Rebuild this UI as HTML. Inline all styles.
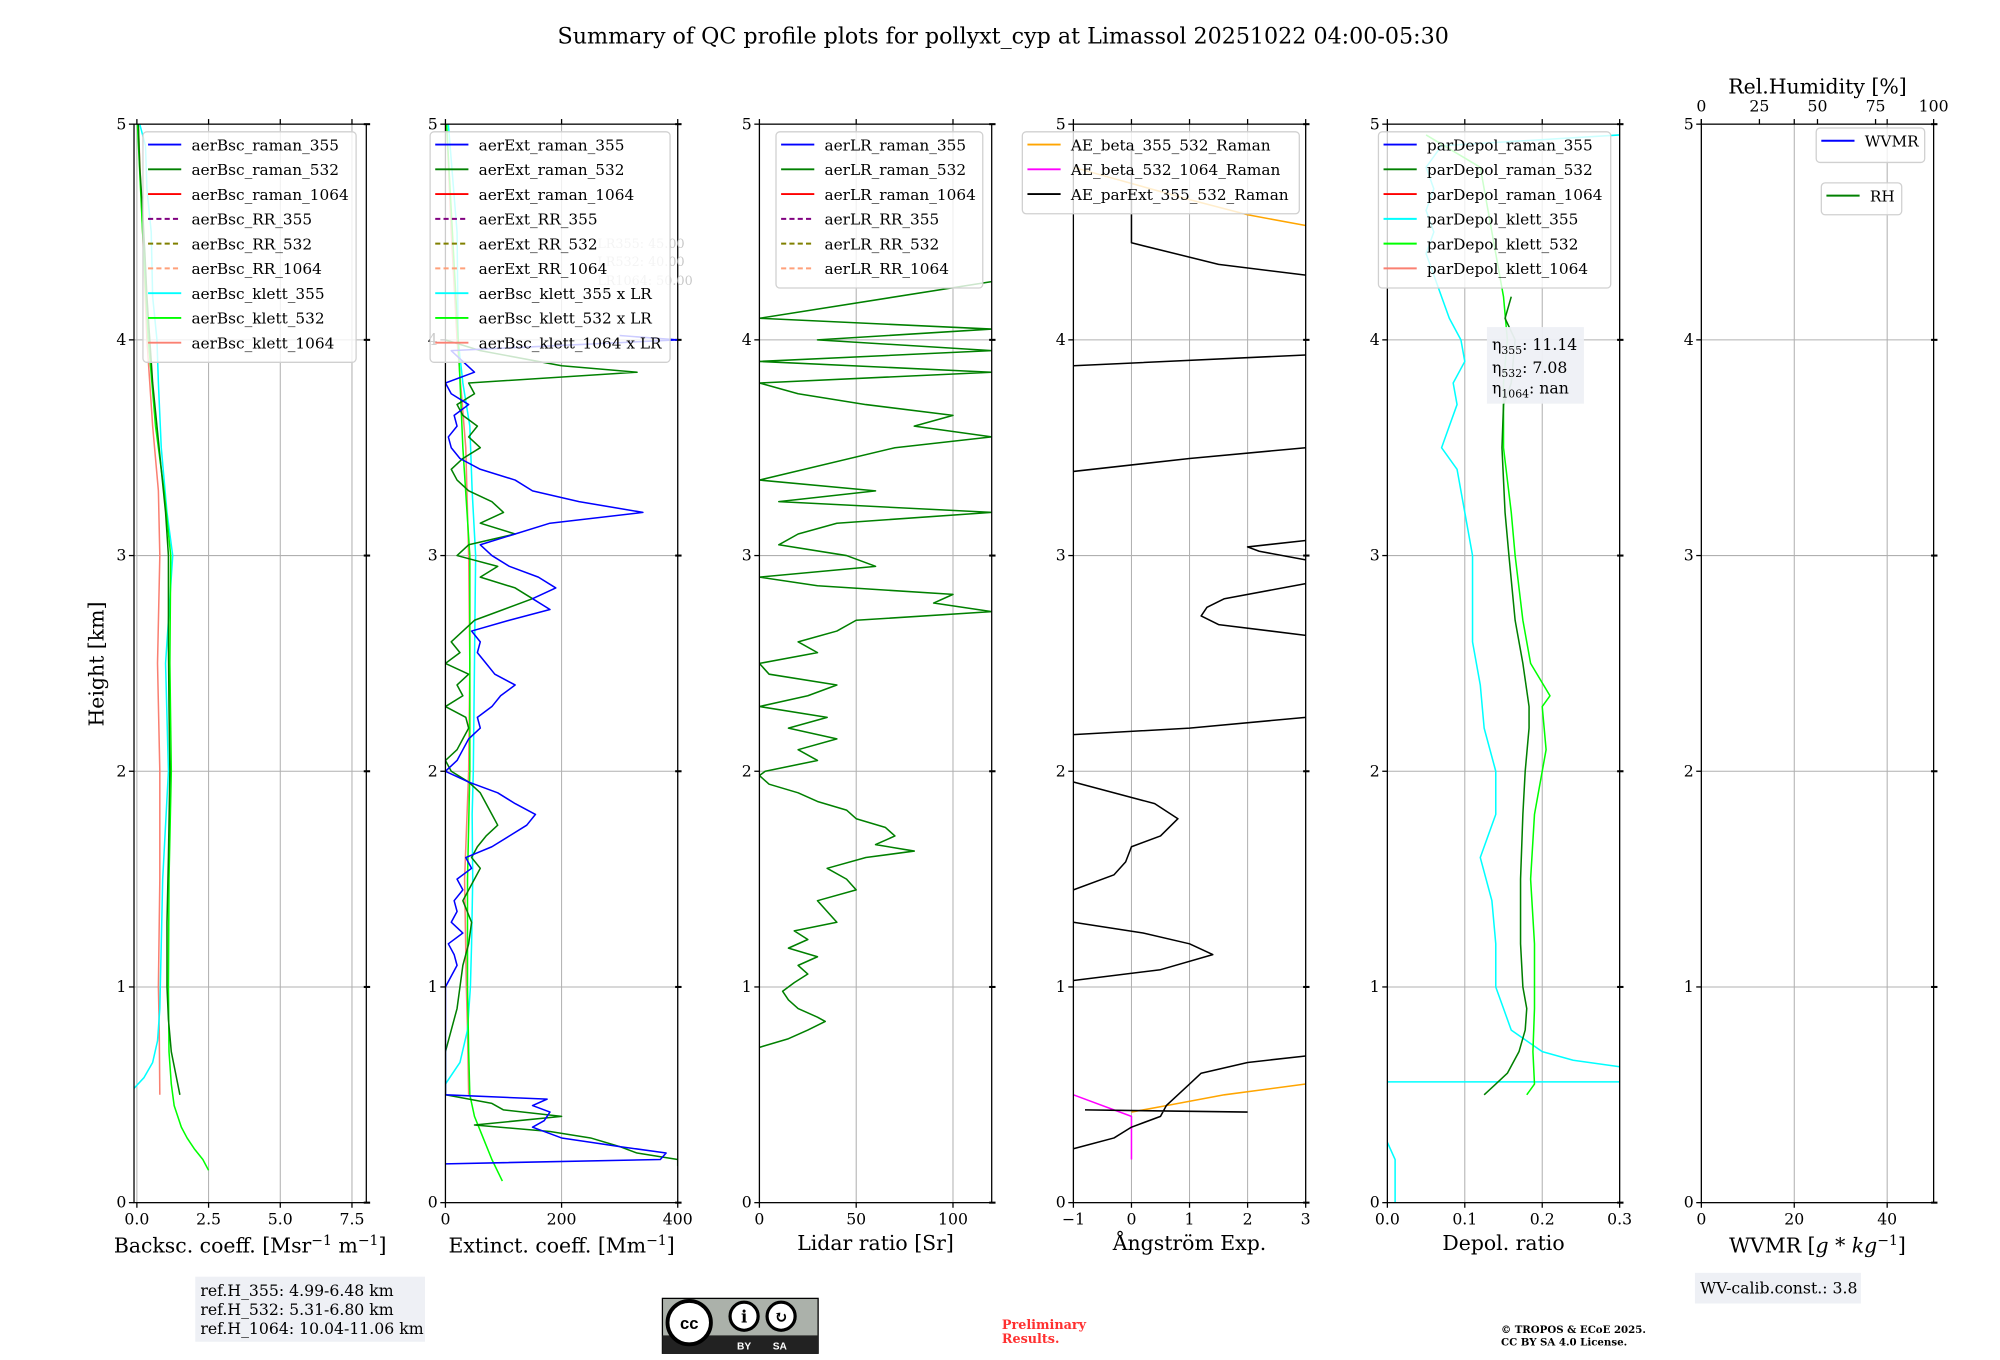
<!DOCTYPE html>
<html><head><meta charset="utf-8"><style>
html,body{margin:0;padding:0;background:#fff;}
svg{display:block;font-family:"DejaVu Serif","Liberation Serif",serif;}
</style></head><body>
<svg id="fig" width="2000" height="1360" viewBox="0 0 1567 1065" xmlns="http://www.w3.org/2000/svg">
<rect x="0" y="0" width="1567" height="1065" fill="#fff"/>
<text x="786" y="34" font-size="17.4" text-anchor="middle">Summary of QC profile plots for pollyxt_cyp at Limassol 20251022 04:00-05:30</text>
<text x="0" y="0" font-size="16" text-anchor="middle" transform="translate(81,520) rotate(-90)">Height [km]</text>
<g id="panels"></g>
<g>
<rect x="153" y="1000" width="180" height="51" fill="#eef0f5"/>
<text x="157" y="1015" font-size="12.3">ref.H_355: 4.99-6.48 km</text>
<text x="157" y="1030" font-size="12.3">ref.H_532: 5.31-6.80 km</text>
<text x="157" y="1045" font-size="12.3">ref.H_1064: 10.04-11.06 km</text>
</g>
<g>
<rect x="519" y="1017" width="122" height="43" fill="#abb1aa" stroke="#000" stroke-width="1"/>
<rect x="519" y="1046" width="122" height="14" fill="#222"/>
<circle cx="540" cy="1036" r="17" fill="#fff" stroke="#000" stroke-width="3"/>
<text x="540" y="1041" font-size="13" font-weight="bold" text-anchor="middle" font-family="Liberation Sans">cc</text>
<circle cx="583" cy="1031" r="11" fill="#fff" stroke="#000" stroke-width="2.5"/>
<circle cx="612" cy="1031" r="11" fill="#fff" stroke="#000" stroke-width="2.5"/>
<text x="583" y="1036" font-size="13" font-weight="bold" text-anchor="middle">i</text>
<text x="612" y="1036" font-size="13" font-weight="bold" text-anchor="middle">↻</text>
<text x="583" y="1057" font-size="8" fill="#fff" text-anchor="middle" font-family="Liberation Sans" font-weight="bold">BY</text>
<text x="611" y="1057" font-size="8" fill="#fff" text-anchor="middle" font-family="Liberation Sans" font-weight="bold">SA</text>
</g>
<text font-size="10" font-weight="bold" fill="#ff3030"><tspan x="785" y="1041">Preliminary</tspan><tspan x="785" y="1052">Results.</tspan></text>
<text font-size="8" font-weight="bold"><tspan x="1176" y="1044">© TROPOS &amp; ECoE 2025.</tspan><tspan x="1176" y="1054">CC BY SA 4.0 License.</tspan></text>
<g>
<rect x="1328" y="997" width="130" height="24" fill="#eef0f5"/>
<text x="1332" y="1013" font-size="12.3">WV-calib.const.: 3.8</text>
</g>
</svg>
<script>
// ---------- DATA (height km / value pairs) ----------
const bscR532H=[0.5,0.6,0.7,0.85,1.0,1.3,1.6,2.0,2.3,2.6,3.0,3.2,3.4,3.6,3.8,4.0,4.2,4.4,4.6,4.8,5.0];
const bscR532V=[1.5,1.35,1.2,1.1,1.05,1.05,1.1,1.15,1.12,1.1,1.1,1.0,0.85,0.7,0.55,0.45,0.35,0.28,0.2,0.1,0.05];
const bscK532H=[0.15,0.2,0.25,0.3,0.35,0.45,0.55,0.7,1.0,1.5,2.0,2.5,3.0,3.3,3.6,4.0,4.5,5.0];
const bscK532V=[2.5,2.3,2.0,1.75,1.55,1.3,1.2,1.12,1.1,1.12,1.2,1.15,1.18,0.95,0.65,0.4,0.2,0.02];
const bscK355H=[0.53,0.58,0.65,0.75,0.9,1.2,1.5,2.0,2.5,2.8,3.0,3.2,3.5,3.8,4.0,4.2,4.5,4.7,4.9,5.0];
const bscK355V=[-0.1,0.25,0.55,0.72,0.8,0.85,0.9,1.1,1.0,1.15,1.25,1.05,0.85,0.75,0.7,0.55,0.5,0.35,0.3,0.1];
const bscK1064H=[0.5,0.8,1.0,1.5,2.0,2.5,3.0,3.3,3.6,4.0,4.5,5.0];
const bscK1064V=[0.8,0.78,0.75,0.8,0.8,0.72,0.8,0.75,0.55,0.35,0.2,0.05];

const extR355H=[0.18,0.2,0.23,0.26,0.3,0.35,0.38,0.42,0.45,0.48,0.5,1.0,1.05,1.1,1.15,1.2,1.25,1.3,1.35,1.4,1.45,1.5,1.55,1.6,1.65,1.7,1.75,1.8,1.85,1.9,1.95,2.0,2.05,2.1,2.15,2.2,2.25,2.3,2.35,2.4,2.45,2.5,2.55,2.6,2.65,2.7,2.75,2.8,2.85,2.9,2.95,3.0,3.05,3.1,3.15,3.2,3.25,3.3,3.35,3.4,3.45,3.5,3.55,3.6,3.65,3.7,3.75,3.8,3.85,3.9,3.95,4.0,4.02];
const extR355V=[0,370,380,300,200,150,170,180,150,175,0,0,10,20,15,5,30,10,20,15,30,20,45,35,80,110,140,155,120,90,40,0,20,30,40,60,55,80,95,120,85,70,55,60,45,110,180,150,190,160,110,80,60,120,180,340,230,150,120,60,25,10,5,20,15,40,10,0,50,30,10,400,300];
const extR532H=[0.17,0.2,0.23,0.26,0.3,0.33,0.36,0.4,0.43,0.46,0.5,0.7,0.8,0.9,1.0,1.1,1.2,1.3,1.4,1.5,1.55,1.6,1.65,1.7,1.75,1.8,1.85,1.9,1.95,2.0,2.05,2.1,2.15,2.2,2.25,2.3,2.35,2.4,2.45,2.5,2.55,2.6,2.65,2.7,2.75,2.8,2.85,2.9,2.95,3.0,3.05,3.1,3.15,3.2,3.25,3.3,3.35,3.4,3.45,3.5,3.55,3.6,3.65,3.7,3.75,3.8,3.85,3.88,3.95,4.0];
const extR532V=[400,400,330,300,250,180,50,200,100,80,0,0,10,20,25,30,40,45,30,50,60,45,55,70,90,80,70,60,40,10,0,20,30,40,35,0,30,20,40,0,25,10,30,50,100,150,120,60,90,20,40,120,60,100,80,40,20,10,30,60,40,55,30,20,50,40,330,200,60,0];
const extK355H=[0.55,0.65,0.8,1.0,1.2,1.5,1.8,2.0,2.5,3.0,3.3,3.6,3.8,4.0,4.5,5.0];
const extK355V=[0,25,38,43,45,47,46,48,50,52,46,42,30,22,20,5];
const extK532H=[0.1,0.2,0.3,0.4,0.5,0.7,1.0,1.5,2.0,2.5,3.0,3.5,4.0,4.5,5.0];
const extK532V=[98,80,65,50,42,40,38,38,42,42,42,30,22,12,2];
const extK1064H=[0.5,0.8,1.0,1.5,2.0,2.5,3.0,3.5,4.0,4.5,5.0];
const extK1064V=[40,38,36,33,40,42,40,35,20,10,2];

const lrR532H=[0.72,0.76,0.8,0.84,0.86,0.9,0.94,0.98,1.02,1.06,1.1,1.14,1.18,1.22,1.26,1.3,1.35,1.4,1.45,1.5,1.55,1.6,1.63,1.66,1.7,1.74,1.78,1.82,1.86,1.9,1.94,1.98,2.0,2.05,2.1,2.15,2.2,2.25,2.3,2.35,2.4,2.45,2.5,2.55,2.6,2.65,2.7,2.74,2.78,2.82,2.86,2.9,2.95,3.0,3.05,3.1,3.15,3.2,3.25,3.3,3.35,3.5,3.55,3.6,3.65,3.7,3.75,3.8,3.85,3.9,3.95,4.0,4.05,4.1,4.27];
const lrR532V=[0,15,25,34,30,20,15,12,18,25,20,30,15,25,18,40,35,30,50,45,35,55,80,60,70,65,50,45,30,20,5,0,3,30,20,40,15,35,0,25,40,5,0,30,20,40,50,120,90,100,30,0,60,45,10,20,40,120,10,60,0,70,120,80,100,55,20,0,120,0,120,30,120,0,120];
const aeParExtH=[0.25,0.3,0.35,0.4,0.45,0.5,0.55,0.6,0.65,0.68,null,0.43,0.42,null,1.03,1.08,1.15,1.2,1.25,1.3,null,1.45,1.52,1.58,1.65,1.7,1.78,1.85,1.95,null,2.17,2.2,2.25,null,2.63,2.68,2.72,2.76,2.8,2.87,null,2.98,3.02,3.04,3.07,null,3.39,3.45,3.5,null,3.88,3.93,null,4.3,4.35,4.45,4.9];
const aeParExtV=[-1,-0.3,0,0.5,0.6,0.8,1.0,1.2,2.0,3,null,-0.8,2.0,null,-1,0.5,1.4,1.0,0.2,-1,null,-1,-0.3,-0.1,0,0.5,0.8,0.4,-1,null,-1,1.0,3,null,3,1.5,1.2,1.3,1.6,3,null,3,2.2,2.0,3,null,-1,1.0,3,null,-1,3,null,3,1.5,0,0];
const aeBeta355H=[0.42,0.45,0.5,0.55,null,4.53,4.58,4.65,4.8];
const aeBeta355V=[0,0.6,1.6,3,null,3,2.0,1.0,-1];
const aeBeta5321064H=[0.5,0.4,0.38,0.2];
const aeBeta5321064V=[-1,0,0,0];

const depK355H=[0,0.2,0.28,null,0.56,0.56,null,0.63,0.66,0.7,0.75,0.8,0.9,1.0,1.2,1.4,1.6,1.8,2.0,2.2,2.4,2.6,2.8,3.0,3.2,3.4,3.5,3.6,3.7,3.8,3.9,4.0,4.1,4.2,4.3,4.4,4.5,4.6,4.7,4.8,4.9,4.95];
const depK355V=[0.01,0.01,0.0,null,0.0,0.3,null,0.3,0.24,0.2,0.18,0.16,0.15,0.14,0.14,0.135,0.12,0.14,0.14,0.125,0.12,0.11,0.11,0.11,0.1,0.09,0.07,0.08,0.09,0.085,0.1,0.095,0.08,0.07,0.06,0.05,0.06,0.05,0.06,0.05,0.07,0.3];
const depR532H=[0.5,0.55,0.6,0.7,0.8,0.9,1.0,1.2,1.5,1.8,2.0,2.2,2.3,2.5,2.7,3.0,3.2,3.5,3.7,3.8,4.0,4.1,4.2];
const depR532V=[0.125,0.14,0.155,0.17,0.178,0.18,0.175,0.172,0.172,0.175,0.178,0.183,0.183,0.175,0.165,0.157,0.152,0.148,0.15,0.16,0.165,0.152,0.16];
const depK532H=[0.5,0.55,0.7,0.9,1.2,1.5,1.8,2.0,2.1,2.3,2.35,2.5,2.7,3.0,3.2,3.5,3.8,4.0,4.2,4.4,4.6,4.8,4.95];
const depK532V=[0.18,0.19,0.188,0.19,0.19,0.185,0.19,0.2,0.205,0.2,0.21,0.185,0.175,0.165,0.16,0.15,0.15,0.155,0.15,0.14,0.13,0.12,0.05];

// x tick labels
const p1Ticks=[0,2.5,5,7.5], p1Labels=["0.0","2.5","5.0","7.5"];
const p2Ticks=[0,200,400], p2Labels=["0","200","400"];
const p3Ticks=[0,50,100], p3Labels=["0","50","100"];
const p4Ticks=[-1,0,1,2,3], p4Labels=["\u22121","0","1","2","3"];
const p5Ticks=[0,0.1,0.2,0.3], p5Labels=["0.0","0.1","0.2","0.3"];
const p6Ticks=[0,20,40], p6Labels=["0","20","40"];
const rhTicks=[0,25,50,75,100], rhLabels=["0","25","50","75","100"];
const yTicks=[0,1,2,3,4,5];

// ---------- DRAWING ----------
const NS="http://www.w3.org/2000/svg";
const root=document.getElementById('panels');
const Y0=942, Y5=97, W=182;
function yS(h){return Y0+(Y5-Y0)*h/5;}
function mk(tag,attrs,parent){const e=document.createElementNS(NS,tag);for(const k in attrs)e.setAttribute(k,attrs[k]);(parent||root).appendChild(e);return e;}
function txt(s,attrs,parent){const e=mk('text',attrs,parent);e.textContent=s;return e;}

function panel(name,left,xmin,xmax,ticks,labels,xlabel){
  const g=mk('g',{});
  
  
  const xS=v=>left+(v-xmin)/(xmax-xmin)*W;
  const clip=mk('clipPath',{id:'clip-'+name},g);
  mk('rect',{x:left,y:Y5,width:W,height:Y0-Y5},clip);
  ticks.forEach((t,i)=>{
    const x=xS(t);
    const gl=mk('line',{x1:x,x2:x,y1:Y5,y2:Y0,stroke:'#b0b0b0','stroke-width':0.8},g);
    
    
    mk('line',{x1:x,x2:x,y1:Y0,y2:Y0+4,stroke:'#000','stroke-width':1},g);
    mk('line',{x1:x,x2:x,y1:Y5,y2:Y5-4,stroke:'#000','stroke-width':1},g);
    const tl=txt(labels[i],{x:x,y:Y0+17,'font-size':12.3,'text-anchor':'middle'},g);
    
    
  });
  yTicks.forEach(h=>{
    const y=yS(h);
    if(h>0&&h<5){const gl=mk('line',{x1:left,x2:left+W,y1:y,y2:y,stroke:'#b0b0b0','stroke-width':0.8},g);
      
      }
    mk('line',{x1:left-4,x2:left,y1:y,y2:y,stroke:'#000','stroke-width':1},g);
    mk('line',{x1:left+W-2,x2:left+W+3,y1:y,y2:y,stroke:'#000','stroke-width':1.6},g);
    const tl=txt(String(h),{x:left-6,y:y+4,'font-size':12.3,'text-anchor':'end'},g);
    
    
  });
  const series=mk('g',{'clip-path':'url(#clip-'+name+')'},g);
  const fr=mk('rect',{x:left,y:Y5,width:W,height:Y0-Y5,fill:'none',stroke:'#000','stroke-width':1},g);
  
  
  const xl=txt(xlabel,{x:left+W/2,y:979,'font-size':16,'text-anchor':'middle'},g);
  
  
  return {g,series,xS};
}
function line(p,H,V,color,sname,w){
  let d='',pen=false;
  for(let i=0;i<H.length;i++){
    if(H[i]===null||V[i]===null){pen=false;continue;}
    d+=(pen?'L':'M')+p.xS(V[i]).toFixed(2)+','+yS(H[i]).toFixed(2);pen=true;
  }
  const e=mk('path',{d:d,fill:'none',stroke:color,'stroke-width':w||1.2,'stroke-linejoin':'round'},p.series);
  
  
}
function legend(p,name,x,y,w,entries,rowH){
  const g=mk('g',{},p.g);
  
  
  rowH=rowH||19.4;
  mk('rect',{x:x,y:y,width:w,height:entries.length*rowH+6,rx:3,fill:'#fff','fill-opacity':0.8,stroke:'#d0d0d0','stroke-width':1},g);
  entries.forEach((en,i)=>{
    const yy=y+10+i*rowH;
    const ln=mk('line',{x1:x+4,x2:x+30,y1:yy,y2:yy,stroke:en[1],'stroke-width':1.5},g);
    if(en[2])ln.setAttribute('stroke-dasharray','4,2.5');
    const t=txt(en[0],{x:x+38,y:yy+4.5,'font-size':12},g);
    
    
  });
}

// Panel 1
const P1=panel('backscatter-panel',105,-0.1,8,p1Ticks,p1Labels,'');
P1.g.lastChild.remove();
const l1=txt('',{x:196,y:981,'font-size':16,'text-anchor':'middle'},P1.g);
l1.innerHTML='Backsc. coeff. [Msr<tspan dy="-6" font-size="11">\u22121</tspan><tspan dy="6"> m</tspan><tspan dy="-6" font-size="11">\u22121</tspan><tspan dy="6">]</tspan>';


line(P1,bscK1064H,bscK1064V,'#fa8072','bsc-klett-1064');
line(P1,bscK355H,bscK355V,'#00ffff','bsc-klett-355');
line(P1,bscK532H,bscK532V,'#00ff00','bsc-klett-532');
line(P1,bscR532H,bscR532V,'#008000','bsc-raman-532');
legend(P1,'backscatter-legend',112,103,167,[['aerBsc_raman_355','#0000ff'],['aerBsc_raman_532','#008000'],['aerBsc_raman_1064','#ff0000'],['aerBsc_RR_355','#800080',1],['aerBsc_RR_532','#808000',1],['aerBsc_RR_1064','#ffa07a',1],['aerBsc_klett_355','#00ffff'],['aerBsc_klett_532','#00ff00'],['aerBsc_klett_1064','#fa8072']]);

// Panel 2
const P2=panel('extinction-panel',349,0,400,p2Ticks,p2Labels,'');
P2.g.lastChild.remove();
const l2=txt('',{x:440,y:981,'font-size':16,'text-anchor':'middle'},P2.g);
l2.innerHTML='Extinct. coeff. [Mm<tspan dy="-6" font-size="11">\u22121</tspan><tspan dy="6">]</tspan>';


line(P2,extK1064H,extK1064V,'#fa8072','ext-klett-1064');
line(P2,extK355H,extK355V,'#00ffff','ext-klett-355');
line(P2,extK532H,extK532V,'#00ff00','ext-klett-532');
line(P2,extR532H,extR532V,'#008000','ext-raman-532');
line(P2,extR355H,extR355V,'#0000ff','ext-raman-355');
const lrt=txt('',{x:470,y:194,'font-size':10,fill:'#c8c8c8'},P2.g);
lrt.innerHTML='<tspan x="468" y="194">LR355: 45.00</tspan><tspan x="468" y="208">LR532: 40.00</tspan><tspan x="468" y="223">LR1064: 50.00</tspan>';


legend(P2,'extinction-legend',337,103,188,[['aerExt_raman_355','#0000ff'],['aerExt_raman_532','#008000'],['aerExt_raman_1064','#ff0000'],['aerExt_RR_355','#800080',1],['aerExt_RR_532','#808000',1],['aerExt_RR_1064','#ffa07a',1],['aerBsc_klett_355 x LR','#00ffff'],['aerBsc_klett_532 x LR','#00ff00'],['aerBsc_klett_1064 x LR','#fa8072']]);

// Panel 3
const P3=panel('lidar-ratio-panel',595,0,120,p3Ticks,p3Labels,'Lidar ratio [Sr]');
line(P3,lrR532H,lrR532V,'#008000','lr-raman-532');
legend(P3,'lidar-ratio-legend',608,103,162,[['aerLR_raman_355','#0000ff'],['aerLR_raman_532','#008000'],['aerLR_raman_1064','#ff0000'],['aerLR_RR_355','#800080',1],['aerLR_RR_532','#808000',1],['aerLR_RR_1064','#ffa07a',1]]);

// Panel 4
const P4=panel('angstrom-panel',841,-1,3,p4Ticks,p4Labels,'\u00c5ngstr\u00f6m Exp.');
line(P4,aeBeta355H,aeBeta355V,'#ffa500','ae-beta-355-532');
line(P4,aeBeta5321064H,aeBeta5321064V,'#ff00ff','ae-beta-532-1064');
line(P4,aeParExtH,aeParExtV,'#000000','ae-parext-355-532');
legend(P4,'angstrom-legend',801,103,217,[['AE_beta_355_532_Raman','#ffa500'],['AE_beta_532_1064_Raman','#ff00ff'],['AE_parExt_355_532_Raman','#000000']]);

// Panel 5
const P5=panel('depol-panel',1087,0,0.3,p5Ticks,p5Labels,'Depol. ratio');
line(P5,depK355H,depK355V,'#00ffff','depol-klett-355');
line(P5,depK532H,depK532V,'#00ff00','depol-klett-532');
line(P5,depR532H,depR532V,'#008000','depol-raman-532');
legend(P5,'depol-legend',1080,103,182,[['parDepol_raman_355','#0000ff'],['parDepol_raman_532','#008000'],['parDepol_raman_1064','#ff0000'],['parDepol_klett_355','#00ffff'],['parDepol_klett_532','#00ff00'],['parDepol_klett_1064','#fa8072']]);
const eg=mk('g',{},P5.g);


mk('rect',{x:1165,y:256,width:76,height:60,fill:'#eef0f5','fill-opacity':0.95},eg);
const et=txt('',{'font-size':12.3},eg);
et.innerHTML='<tspan x="1169" y="274">η<tspan font-size="8.5" dy="3">355</tspan><tspan dy="-3">: 11.14</tspan></tspan><tspan x="1169" y="292">η<tspan font-size="8.5" dy="3">532</tspan><tspan dy="-3">: 7.08</tspan></tspan><tspan x="1169" y="308">η<tspan font-size="8.5" dy="3">1064</tspan><tspan dy="-3">: nan</tspan></tspan>';

// Panel 6
const P6=panel('wvmr-panel',1333,0,50,p6Ticks,p6Labels,'');
P6.g.lastChild.remove();
const l6=txt('',{x:1424,y:981,'font-size':16,'text-anchor':'middle'},P6.g);
l6.innerHTML='WVMR [<tspan font-style="italic">g</tspan> * <tspan font-style="italic">kg</tspan><tspan dy="-6" font-size="11">\u22121</tspan><tspan dy="6">]</tspan>';


rhTicks.forEach((t,i)=>{
  const x=1333+t/100*W;
  mk('line',{x1:x,x2:x,y1:Y5,y2:Y5-4,stroke:'#000','stroke-width':1},P6.g);
  const tl=txt(rhLabels[i],{x:x,y:87,'font-size':12.3,'text-anchor':'middle'},P6.g);
  
  
});
const rht=txt('Rel.Humidity [%]',{x:1424,y:73,'font-size':16,'text-anchor':'middle'},P6.g);


legend(P6,'wvmr-legend',1423,100,85,[['WVMR','#0000ff']],21);
legend(P6,'rh-legend',1427,143,63,[['RH','#008000']],19);
</script>
</body></html>
